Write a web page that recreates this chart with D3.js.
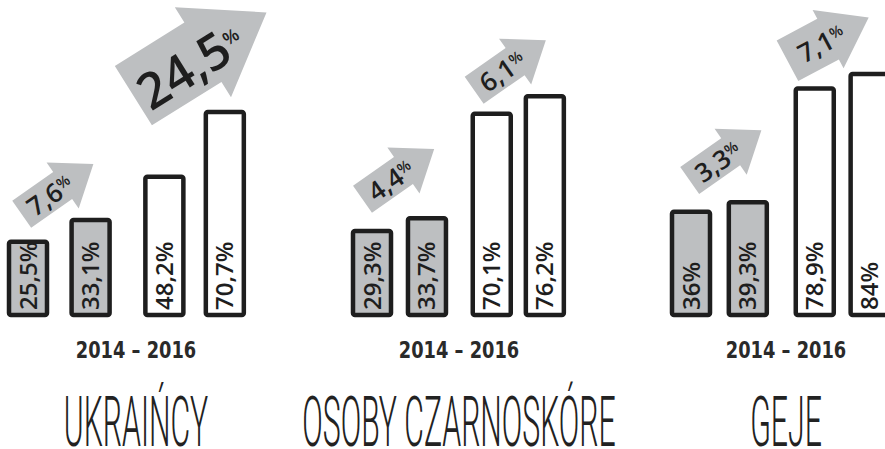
<!DOCTYPE html>
<html>
<head>
<meta charset="utf-8">
<script src="https://cdn.jsdelivr.net/npm/d3@7"></script>
<style>
  html, body { margin: 0; padding: 0; background: #ffffff; }
  svg { display: block; }
</style>
</head>
<body>
<svg id="chart" width="885" height="449"></svg>
<script>
// ---------- DATA ----------
const groups = ["UKRAIŃCY", "OSOBY CZARNOSKÓRE", "GEJE"];
const periodLabel = "2014 – 2016";
const series = ["grey2014", "grey2016", "white2014", "white2016"];
const grey2014 = [25.5, 29.3, 36];
const grey2016 = [33.1, 33.7, 39.3];
const white2014 = [48.2, 70.1, 78.9];
const white2016 = [70.7, 76.2, 84];
const greyIncrease = [7.6, 4.4, 3.3];
const whiteIncrease = [24.5, 6.1, 7.1];

// ---------- STYLE / LAYOUT ----------
const GREY = "#bdbfc1", INK = "#1e1e1e";
const svg = d3.select("#chart");

const seriesValues = { grey2014, grey2016, white2014, white2016 };
const seriesFill = d3.scaleOrdinal(series, [GREY, GREY, "#ffffff", "#ffffff"]);

const y = d3.scaleLinear().domain([0, 100]).range([315, 28]);
const groupExtent = d3.scaleOrdinal(groups, [[9, 247], [353, 562], [672, 888]]);
const innerPos = d3.scaleOrdinal(series, [0, 0.263, 0.573, 0.827]);
const labelCenter = d3.scaleOrdinal(groups, [136, 459, 786]);
const barW = 38;

const locale = d3.formatLocale({ decimal: ",", thousands: " ", grouping: [3], currency: ["", ""] });
const fmt = locale.format(".1~f");

function barLeft(g, s) {
  return d3.scaleLinear().domain([0, 1]).range(groupExtent(g))(innerPos(s));
}

const bars = [];
groups.forEach((g, i) => {
  series.forEach(s => bars.push({ group: g, gi: i, series: s, value: seriesValues[s][i] }));
});

// ---------- BARS ----------
const barG = svg.append("g");
barG.selectAll("rect").data(bars).join("rect")
  .attr("x", d => barLeft(d.group, d.series))
  .attr("y", d => y(d.value))
  .attr("width", barW)
  .attr("height", d => y(0) - y(d.value))
  .attr("rx", 2)
  .attr("fill", d => seriesFill(d.series))
  .attr("stroke", INK)
  .attr("stroke-width", 4.5)
  .attr("stroke-linejoin", "round");

barG.selectAll("text").data(bars).join("text")
  .attr("transform", d => `translate(${barLeft(d.group, d.series) + barW / 2 + 8.5},${y(0) - 5}) rotate(-90)`)
  .attr("text-anchor", "start")
  .attr("font-family", "'Open Sans', sans-serif")
  .attr("font-weight", 600)
  .attr("font-size", 24)
  .attr("fill", INK)
  .text(d => fmt(d.value) + "%");

// ---------- ARROWS ----------
const smallShape = { shaft: 50, head: 37.5, hw: 16.5, headHw: 28, angle: -35, font: 26, pct: 15, t: 34, perp: 1 };
const arrows = [];
groups.forEach((g, i) => {
  arrows.push({ group: g, from: "grey2014", base: grey2014[i], value: greyIncrease[i] });
  arrows.push({ group: g, from: "white2014", base: white2014[i], value: whiteIncrease[i] });
});
const arrowStyle = [
  Object.assign({}, smallShape, { dx: -6.3, dy: -27.6 }),
  { shaft: 82, head: 75, hw: 35, headHw: 53, angle: -32, font: 50, pct: 18, t: 64, perp: 5, dx: -31, dy: -81 },
  Object.assign({}, smallShape, { dx: -9.5, dy: -31.7 }),
  Object.assign({}, smallShape, { dx: -17.6, dy: -23.5 }),
  Object.assign({}, smallShape, { dx: -1.3, dy: -31.2 }),
  { shaft: 46, head: 46, hw: 23, headHw: 33, angle: -28, font: 26, pct: 15, t: 38, perp: 1, dx: -27.3, dy: -27.8 }
];

const arrowG = svg.append("g");
arrows.forEach((a, k) => {
  const st = arrowStyle[k];
  const tx = barLeft(a.group, a.from) + barW / 2 + st.dx;
  const ty = y(a.base) + st.dy;
  const pts = [
    [0, -st.hw], [st.shaft, -st.hw], [st.shaft, -st.headHw],
    [st.shaft + st.head, 0],
    [st.shaft, st.headHw], [st.shaft, st.hw], [0, st.hw]
  ];
  const g = arrowG.append("g").attr("transform", `translate(${tx},${ty}) rotate(${st.angle})`);
  g.append("path").attr("d", d3.line()(pts) + "Z").attr("fill", GREY);
  const t = g.append("text")
    .attr("x", st.t)
    .attr("y", st.perp)
    .attr("dy", "0.36em")
    .attr("text-anchor", "middle")
    .attr("font-family", "'Open Sans', sans-serif")
    .attr("font-weight", 600)
    .attr("font-size", st.font)
    .attr("fill", INK);
  t.append("tspan").text(fmt(a.value));
  t.append("tspan").attr("font-size", st.pct).attr("dy", -st.font * 0.3).text("%");
});

// ---------- LABELS ----------
const labG = svg.append("g");
labG.selectAll("text.period").data(groups).join("text")
  .attr("class", "period")
  .attr("transform", d => `translate(${labelCenter(d)},358) scale(0.9,1.05)`)
  .attr("text-anchor", "middle")
  .attr("font-family", "'DejaVu Sans Condensed', 'DejaVu Sans', sans-serif")
  .attr("font-weight", "bold")
  .attr("font-size", 22)
  .attr("fill", "#2a2a2a")
  .text(periodLabel);

labG.selectAll("text.title").data(groups).join("text")
  .attr("class", "title")
  .attr("transform", d => `translate(${labelCenter(d)},446) scale(0.84,1.95)`)
  .attr("text-anchor", "middle")
  .attr("font-family", "Roboto, sans-serif")
  .attr("font-weight", 300)
  .attr("font-size", 36)
  .attr("fill", "#222")
  .text(d => d);
</script>
</body>
</html>
